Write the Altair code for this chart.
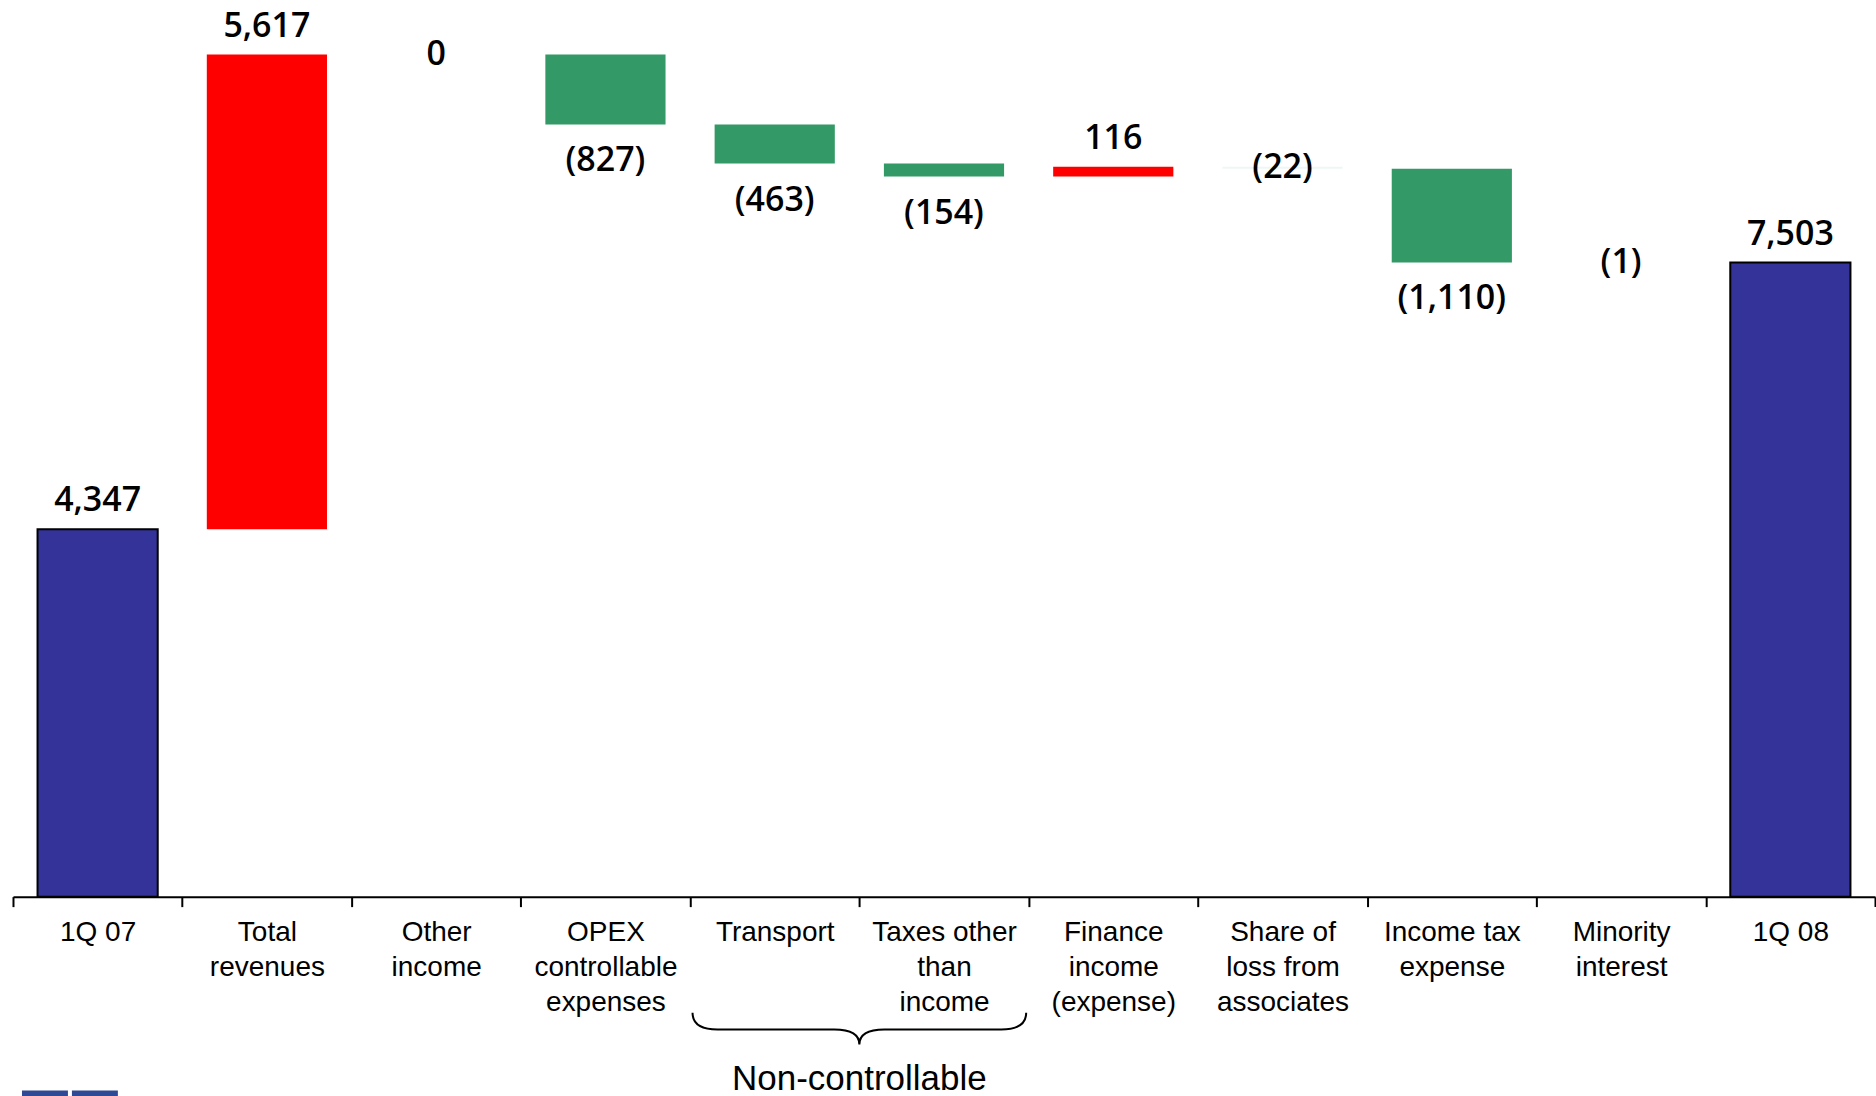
import altair as alt
import pandas as pd

# ---- data ----
categories = [
    "1Q 07",
    "Total|revenues",
    "Other|income",
    "OPEX|controllable|expenses",
    "Transport",
    "Taxes other|than|income",
    "Finance|income|(expense)",
    "Share of|loss from|associates",
    "Income tax|expense",
    "Minority|interest",
    "1Q 08",
]
values = [4347, 5617, 0, -827, -463, -154, 116, -22, -1110, -1, 7503]
is_total = [True, False, False, False, False, False, False, False, False, False, True]
group_label = "Non-controllable"
group_boundary = "Taxes other|than|income"   # brace is centred on the start of this band

# ---- build waterfall table ----
rows = []
running = 0
for c, v, t in zip(categories, values, is_total):
    if t:
        start, end = 0, v
        running = v
    else:
        start, end = running, running + v
        running = end
    kind = "total" if t else ("up" if v > 0 else "down")
    label = f"{v:,}" if v >= 0 else f"({-v:,})"
    if abs(v) < 50:
        pos, anchor = "center", (start + end) / 2
    elif v > 0:
        pos, anchor = "above", max(start, end)
    else:
        pos, anchor = "below", min(start, end)
    rows.append(dict(cat=c, start=start, end=end, kind=kind, label=label, pos=pos, anchor=anchor))
df = pd.DataFrame(rows)

W, H = 1864, 897
YMAX = 10603

x_enc = alt.X(
    "cat:N",
    sort=categories,
    scale=alt.Scale(paddingInner=0, paddingOuter=0),
    axis=alt.Axis(
        title=None,
        labelAngle=0,
        labelExpr="split(datum.label, '|')",
        labelFont="Liberation Sans",
        labelFontSize=28,
        labelLineHeight=35,
        labelBaseline="top",
        labelPadding=12,
        labelColor="black",
        labelLimit=400,
        tickSize=10,
        tickWidth=2,
        tickColor="black",
        tickBand="extent",
        domainColor="black",
        domainWidth=2,
        grid=False,
    ),
)
y_scale = alt.Scale(domain=[0, YMAX], nice=False, zero=True)
color_enc = alt.Color("kind:N", scale=alt.Scale(domain=["total", "up", "down"],
                                                range=["#333399", "#FF0000", "#339966"]), legend=None)

base = alt.Chart(df)

bars_delta = base.transform_filter("datum.kind != 'total'").mark_bar(width={"band": 0.71}).encode(
    x=x_enc,
    y=alt.Y("start:Q", scale=y_scale, axis=None),
    y2="end:Q",
    color=color_enc,
    opacity=alt.condition("datum.pos == 'center'", alt.value(0.08), alt.value(1)),
)
bars_total = base.transform_filter("datum.kind == 'total'").mark_bar(
    width={"band": 0.71}, stroke="black", strokeWidth=2).encode(
    x=x_enc,
    y=alt.Y("start:Q", scale=y_scale, axis=None),
    y2="end:Q",
    color=color_enc,
)

def labels(pos, dy):
    return base.transform_filter(f"datum.pos == '{pos}'").mark_text(
        font="Open Sans", fontSize=34, fontWeight=600, color="black",
        baseline="middle", align="center", dy=dy,
    ).encode(
        x=x_enc,
        y=alt.Y("anchor:Q", scale=y_scale, axis=None),
        text="label:N",
    )

one = alt.Chart(pd.DataFrame({"a": [0]}))

brace_path = ("M -1 -0.1 Q -1 0 -0.85 0 L -0.15 0 Q 0 0 0 0.09 "
              "Q 0 0 0.15 0 L 0.85 0 Q 1 0 1 -0.1")
brace = one.mark_point(shape=brace_path, size=334 ** 2, filled=False, stroke="black",
                       strokeWidth=2, opacity=1).encode(
    x=alt.XDatum(group_boundary, type="nominal", bandPosition=0),
    y=alt.value(1030),
)
group_text = one.mark_text(font="Liberation Sans", fontSize=35, color="black",
                           baseline="middle", align="center").encode(
    x=alt.XDatum(group_boundary, type="nominal", bandPosition=0),
    y=alt.value(1080),
    text=alt.value(group_label),
)
logo1 = one.mark_rect(color="#2E4A96").encode(
    x=alt.value(9), x2=alt.value(55), y=alt.value(1091), y2=alt.value(1100))
logo2 = one.mark_rect(color="#2E4A96").encode(
    x=alt.value(59), x2=alt.value(105), y=alt.value(1091), y2=alt.value(1100))

chart = alt.layer(
    bars_delta, bars_total,
    labels("above", -28), labels("below", 37), labels("center", 0),
    brace, group_text, logo1, logo2,
).properties(
    width=W, height=H,
    padding={"left": 12, "top": 0, "right": 0, "bottom": 0},
    background="white",
).configure_view(strokeWidth=0)

chart.save("out.html", embed_options={"renderer": "svg", "actions": False})
